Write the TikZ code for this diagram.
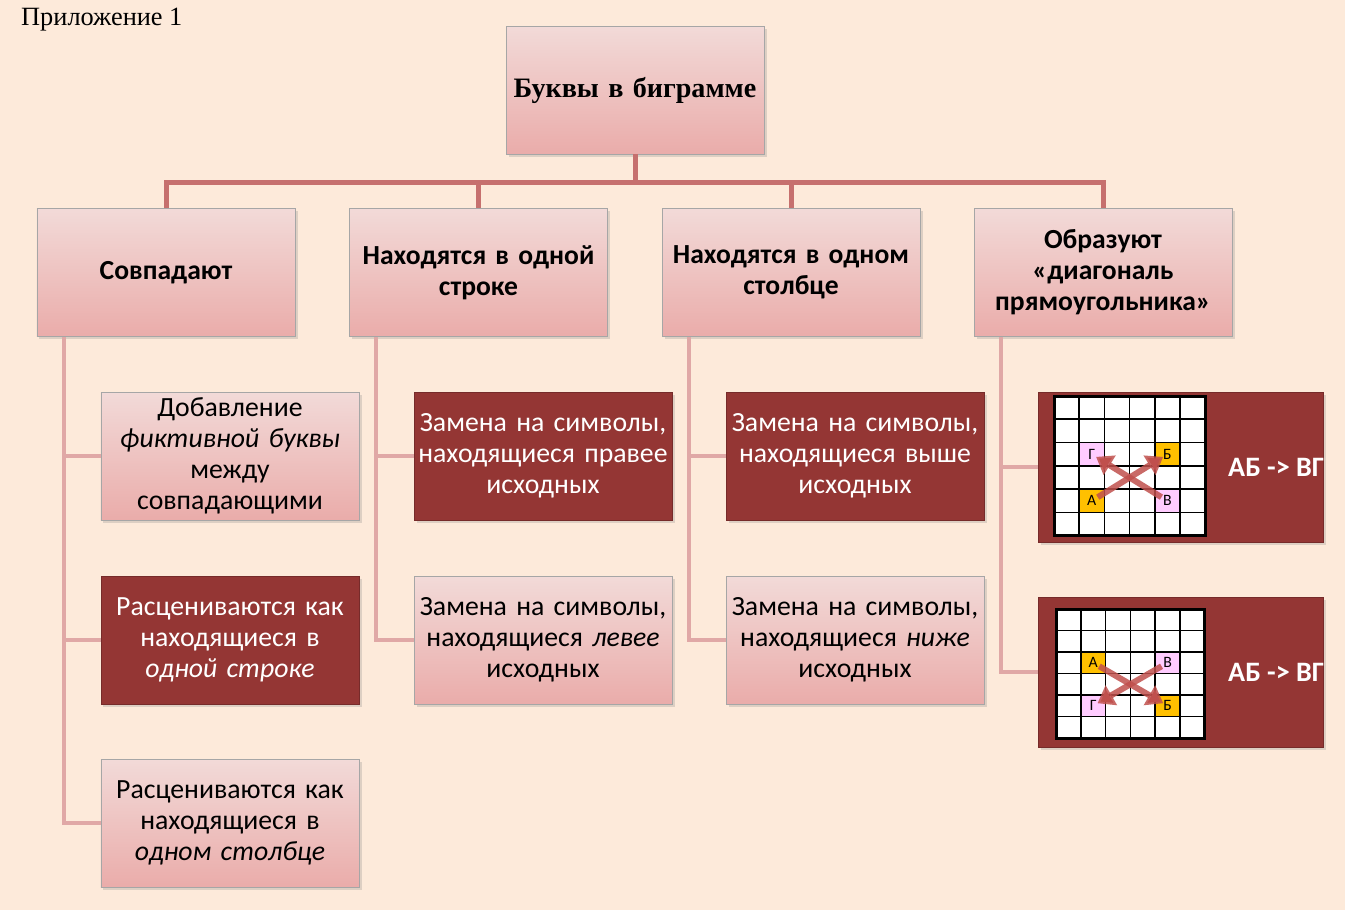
\documentclass[tikz,border=0pt]{standalone}
\usepackage{fontspec}
\setmainfont{Carlito}
\newfontfamily\serifrm{Liberation Serif}
\usetikzlibrary{arrows.meta,shadows}
\definecolor{bgpeach}{RGB}{253,234,218}
\definecolor{boxdark}{RGB}{148,54,52}
\definecolor{pinktop}{RGB}{242,218,216}
\definecolor{pinkbot}{RGB}{234,172,170}
\definecolor{trunkc}{RGB}{198,112,110}
\definecolor{branchc}{RGB}{224,168,166}
\definecolor{cellpink}{RGB}{255,204,255}
\definecolor{cellgold}{RGB}{255,192,0}
\definecolor{xarrowc}{RGB}{192,80,77}
\tikzset{
  boxtext/.style={font=\fontsize{15.8}{17.6}\selectfont,align=center,inner sep=0pt},
  lightbox/.style={boxtext,shade,top color=pinktop,bottom color=pinkbot,draw=black!35,
    line width=0.4pt,minimum width=51.6mm,minimum height=25.6mm,text width=51.6mm,
    drop shadow={opacity=0.25,shadow xshift=0.5mm,shadow yshift=-0.5mm}},
  headbox/.style={lightbox,font=\bfseries\fontsize{15.7}{17.6}\selectfont},
  darkbox/.style={boxtext,fill=boxdark,draw=boxdark!80!black,text=white,
    minimum width=51.6mm,minimum height=25.6mm,text width=51.6mm,
    drop shadow={opacity=0.25,shadow xshift=0.5mm,shadow yshift=-0.5mm}},
  picbox/.style={darkbox,minimum width=57mm,minimum height=30mm,text width=57mm},
  trunk/.style={draw=trunkc,line width=1mm},
  branch/.style={draw=branchc,line width=0.8mm},
  gline/.style={draw=black,line width=0.35mm,fill=white},
  glet/.style={draw=black,line width=0.35mm,inner sep=0pt,font=\fontsize{9}{10}\selectfont},
  xarr/.style={draw=xarrowc,draw opacity=0.85,line width=1.2mm,-{Triangle[length=3.2mm,width=4.4mm]},
    shorten <=1.4mm,shorten >=1mm},
}
\begin{document}
\begin{tikzpicture}[x=0.2mm,y=-0.2mm]
  \fill[bgpeach] (0,0) rectangle (1345,910);
  \useasboundingbox (0,0) rectangle (1345,910);
  \node[anchor=west,font=\serifrm\fontsize{15}{17}\selectfont] (appx) at (15,20) {Приложение 1};
  % root and first level
  \node[lightbox,font=\serifrm\bfseries\fontsize{16}{19}\selectfont] (root) at (635,90) {Буквы в биграмме};
  \node[headbox] (same) at (166,272.5) {Совпадают};
  \node[headbox] (row) at (478.5,272.5) {Находятся в одной\\строке};
  \node[headbox] (col) at (791,272.5) {Находятся в одном\\столбце};
  \node[headbox] (diag) at (1103,272.5) {Образуют\\«диагональ\\прямоугольника»};
  \foreach \n in {same,row,col,diag}{
    \draw[trunk] (root.south) -- ++(0,28) -| (\n.north);}
  % column 1
  \node[lightbox] (same1) at (230,456) {Добавление\\\textit{фиктивной буквы}\\между\\совпадающими};
  \node[darkbox] (same2) at (230,640) {Расцениваются как\\находящиеся в\\\textit{одной строке}};
  \node[lightbox] (same3) at (230,823) {Расцениваются как\\находящиеся в\\\textit{одном столбце}};
  % column 2
  \node[darkbox] (row1) at (543,456) {Замена на символы,\\находящиеся правее\\исходных};
  \node[lightbox] (row2) at (543,640) {Замена на символы,\\находящиеся \textit{левее}\\исходных};
  % column 3
  \node[darkbox] (col1) at (855,456) {Замена на символы,\\находящиеся выше\\исходных};
  \node[lightbox] (col2) at (855,640) {Замена на символы,\\находящиеся \textit{ниже}\\исходных};
  % column 4
  \node[picbox] (diag1) at (1180.5,467) {};
  \node[picbox] (diag2) at (1180.5,672) {};
  \node[text=white,font=\bfseries\fontsize{16}{18}\selectfont,anchor=west] (rule1) at (1222,467) {АБ -> ВГ};
  \node[text=white,font=\bfseries\fontsize{16}{18}\selectfont,anchor=west] (rule2) at (1222,672) {АБ -> ВГ};
  % branches
  \foreach \n in {same1,same2,same3}{
    \draw[branch] ([xshift=5.4mm]same.south west) |- (\n.west);}
  \foreach \n in {row1,row2}{
    \draw[branch] ([xshift=5.4mm]row.south west) |- (\n.west);}
  \foreach \n in {col1,col2}{
    \draw[branch] ([xshift=5.4mm]col.south west) |- (\n.west);}
  \foreach \n in {diag1,diag2}{
    \draw[branch] ([xshift=5.4mm]diag.south west) |- (\n.west);}
  % grid: letters in the same band
  \begin{scope}[shift={(1054,396)},every node/.append style={minimum width=5.04mm,minimum height=4.66mm}]
    \foreach \i in {0,...,5}
      \foreach \j in {0,...,5}
        \draw[gline] (\i*25.2,\j*23.3) rectangle ++(25.2,23.3);
    \node[glet,fill=cellpink] (ga) at (1.5*25.2,2.5*23.3) {Г};
    \node[glet,fill=cellgold] (gb) at (4.5*25.2,2.5*23.3) {Б};
    \node[glet,fill=cellgold] (gc) at (1.5*25.2,4.5*23.3) {А};
    \node[glet,fill=cellpink] (gd) at (4.5*25.2,4.5*23.3) {В};
    \draw[black,line width=0.6mm] (0,0) rectangle (6*25.2,6*23.3);
    \draw[xarr] (gc.center) -- (gb.center);
    \draw[xarr] (gd.center) -- (ga.center);
  \end{scope}
  \begin{scope}[shift={(1056,609)},every node/.append style={minimum width=4.96mm,minimum height=4.3mm}]
    \foreach \i in {0,...,5}
      \foreach \j in {0,...,5}
        \draw[gline] (\i*24.8,\j*21.5) rectangle ++(24.8,21.5);
    \node[glet,fill=cellgold] (ha) at (1.5*24.8,2.5*21.5) {А};
    \node[glet,fill=cellpink] (hb) at (4.5*24.8,2.5*21.5) {В};
    \node[glet,fill=cellpink] (hc) at (1.5*24.8,4.5*21.5) {Г};
    \node[glet,fill=cellgold] (hd) at (4.5*24.8,4.5*21.5) {Б};
    \draw[black,line width=0.6mm] (0,0) rectangle (6*24.8,6*21.5);
    \draw[xarr] (ha.center) -- (hd.center);
    \draw[xarr] (hb.center) -- (hc.center);
  \end{scope}
\end{tikzpicture}
\end{document}
